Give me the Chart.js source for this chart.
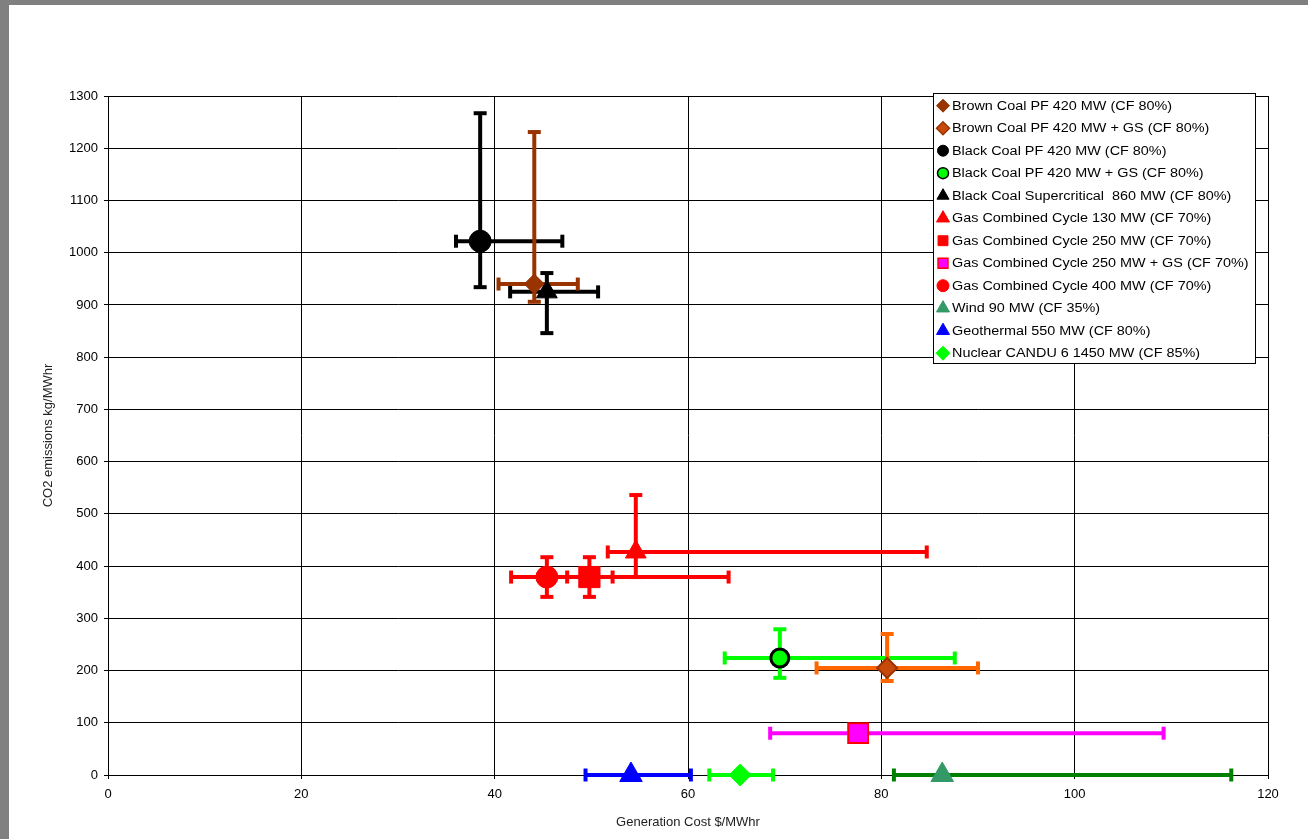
<!DOCTYPE html>
<html>
<head>
<meta charset="utf-8">
<script src="https://cdn.jsdelivr.net/npm/chart.js@4.4.0/dist/chart.umd.min.js"></script>
<style>
  html, body { margin: 0; padding: 0; background: #808080; }
  .sheet { position: absolute; left: 9px; top: 5px; width: 1299px; height: 834px; background: #fff; }
</style>
</head>
<body>
<div class="sheet"><canvas id="chart"></canvas></div>
<script>
const plants = [
  "Brown Coal PF 420 MW (CF 80%)",
  "Brown Coal PF 420 MW + GS (CF 80%)",
  "Black Coal PF 420 MW (CF 80%)",
  "Black Coal PF 420 MW + GS (CF 80%)",
  "Black Coal Supercritical  860 MW (CF 80%)",
  "Gas Combined Cycle 130 MW (CF 70%)",
  "Gas Combined Cycle 250 MW (CF 70%)",
  "Gas Combined Cycle 250 MW + GS (CF 70%)",
  "Gas Combined Cycle 400 MW (CF 70%)",
  "Wind 90 MW (CF 35%)",
  "Geothermal 550 MW (CF 80%)",
  "Nuclear CANDU 6 1450 MW (CF 85%)"
];

// generation cost $/MWhr and its range
const cost     = [44.1, 80.6, 38.5, 69.5, 45.4, 54.6, 49.8, 77.6, 45.4, 86.3, 54.1, 65.4];
const costLow  = [40.4, 73.3, 36.0, 63.8, 41.6, 51.7, 47.5, 68.5, 41.7, 81.3, 49.4, 62.2];
const costHigh = [48.6, 90.0, 47.0, 87.6, 50.7, 84.7, 64.2, 109.2, 52.2, 116.2, 60.3, 68.8];

// CO2 emissions kg/MWhr and its range (null = no bar)
const emission     = [940, 205, 1022, 224, 925, 427, 379, 80, 379, 0, 0, 0];
const emissionLow  = [906, 180, 934, 186, 846, 379, 341, null, 341, null, null, null];
const emissionHigh = [1231, 270, 1267, 279, 961, 536, 417, null, 417, null, null, null];

const xTicks = [0, 20, 40, 60, 80, 100, 120];
const yTicks = [0, 100, 200, 300, 400, 500, 600, 700, 800, 900, 1000, 1100, 1200, 1300];

const styles = [
  { shape: 'rectRot',  size: 10, fill: '#993300', edge: '#993300', edgeW: 1, bar: '#993300' },
  { shape: 'rectRot',  size: 10, fill: '#C84A0A', edge: '#993300', edgeW: 2, bar: '#FF6600' },
  { shape: 'circle',   size: 11, fill: '#000000', edge: '#000000', edgeW: 1, bar: '#000000' },
  { shape: 'circle',   size: 9,  fill: '#00FF00', edge: '#000000', edgeW: 3, bar: '#00FF00' },
  { shape: 'triangle', size: 12, fill: '#000000', edge: '#000000', edgeW: 1, bar: '#000000' },
  { shape: 'triangle', size: 12, fill: '#FF0000', edge: '#FF0000', edgeW: 1, bar: '#FF0000' },
  { shape: 'rect',     size: 15, fill: '#FF0000', edge: '#FF0000', edgeW: 1, bar: '#FF0000' },
  { shape: 'rect',     size: 14, fill: '#FF00FF', edge: '#FF0000', edgeW: 2, bar: '#FF00FF' },
  { shape: 'circle',   size: 11, fill: '#FF0000', edge: '#FF0000', edgeW: 1, bar: '#FF0000' },
  { shape: 'triangle', size: 13, fill: '#339966', edge: '#339966', edgeW: 1, bar: '#008000' },
  { shape: 'triangle', size: 13, fill: '#0000FF', edge: '#0000FF', edgeW: 1, bar: '#0000FF' },
  { shape: 'rectRot',  size: 11, fill: '#00FF00', edge: '#00FF00', edgeW: 1, bar: '#00FF00' }
];

const legendShape = [6.5, 6.5, 5.5, 5.5, 7, 7.5, 7, 7, 6, 7.5, 7.5, 7];

const datasets = [];
plants.forEach((name, i) => {
  const s = styles[i];
  datasets.push({
    label: name,
    data: [{ x: cost[i], y: emission[i] }],
    pointStyle: s.shape,
    pointRadius: s.size,
    backgroundColor: s.fill,
    borderColor: s.edge,
    borderWidth: s.edgeW,
    clip: false,
    order: 0
  });
  datasets.push({
    label: name + ' cost',
    data: [{ x: costLow[i], y: emission[i] }, { x: costHigh[i], y: emission[i] }],
    showLine: true,
    borderColor: s.bar,
    borderWidth: 4,
    pointStyle: 'line',
    pointRadius: 6.5,
    pointBorderWidth: 4,
    pointBorderColor: s.bar,
    pointRotation: 90,
    clip: false,
    order: 1
  });
  if (emissionLow[i] !== null) {
    datasets.push({
      label: name + ' emissions',
      data: [{ x: cost[i], y: emissionLow[i] }, { x: cost[i], y: emissionHigh[i] }],
      showLine: true,
      borderColor: s.bar,
      borderWidth: 4,
      pointStyle: 'line',
      pointRadius: 6.5,
      pointBorderWidth: 4,
      pointBorderColor: s.bar,
      pointRotation: 0,
      clip: false,
      order: 1
    });
  }
});

const legendBox = {
  id: 'legendBox',
  afterDraw(chart) {
    const ctx = chart.ctx;
    const left = 924, top = 88, width = 322, height = 270, rowH = 22.5;
    ctx.save();
    ctx.fillStyle = '#fff';
    ctx.fillRect(left, top, width, height);
    ctx.strokeStyle = '#000';
    ctx.lineWidth = 1;
    ctx.strokeRect(left + 0.5, top + 0.5, width, height);
    ctx.font = '12px "Liberation Sans", Arial, sans-serif';
    ctx.textBaseline = 'middle';
    plants.forEach((name, i) => {
      const s = styles[i];
      const y = top + 12.7 + i * rowH;
      ctx.fillStyle = s.fill;
      ctx.strokeStyle = s.edge;
      ctx.lineWidth = s.edgeW > 1 ? 1.5 : 1;
      Chart.helpers.drawPoint(ctx, { pointStyle: s.shape, radius: legendShape[i], rotation: 0, borderWidth: ctx.lineWidth }, left + 10, y);
      ctx.fillStyle = '#000';
      ctx.save();
      ctx.translate(left + 19, y + 0.5);
      ctx.scale(1.2, 1);
      ctx.fillText(name, 0, 0);
      ctx.restore();
    });
    ctx.restore();
  }
};

const tickFont = { family: '"Liberation Sans", Arial, sans-serif', size: 13 };

new Chart(document.getElementById('chart'), {
  type: 'scatter',
  data: { datasets },
  options: {
    responsive: true,
    maintainAspectRatio: false,
    animation: false,
    layout: { padding: { top: 91, right: 40, bottom: 0, left: 0 } },
    plugins: {
      legend: { display: false },
      tooltip: { enabled: false }
    },
    scales: {
      x: {
        type: 'linear',
        min: 0,
        max: 120,
        afterBuildTicks: (scale) => { scale.ticks = xTicks.map(v => ({ value: v })); },
        afterFit: (scale) => { scale.height = 64; },
        grid: { color: '#000', lineWidth: 1, tickLength: 4 },
        border: { color: '#000', width: 1 },
        ticks: { color: '#000', font: tickFont, padding: 8, maxRotation: 0, callback: (v) => String(v) },
        title: {
          display: true,
          text: 'Generation Cost $/MWhr',
          color: '#222',
          font: tickFont,
          padding: { top: 4, bottom: 9 }
        }
      },
      y: {
        type: 'linear',
        min: 0,
        max: 1300,
        afterBuildTicks: (scale) => { scale.ticks = yTicks.map(v => ({ value: v })); },
        afterFit: (scale) => { scale.width = 99; },
        grid: { color: '#000', lineWidth: 1, tickLength: 4 },
        border: { color: '#000', width: 1 },
        ticks: { color: '#000', font: tickFont, padding: 6, callback: (v) => String(v) },
        title: {
          display: true,
          text: 'CO2 emissions kg/MWhr',
          color: '#222',
          font: tickFont,
          padding: { top: 32, bottom: 4 }
        }
      }
    }
  },
  plugins: [legendBox]
});
</script>
</body>
</html>
